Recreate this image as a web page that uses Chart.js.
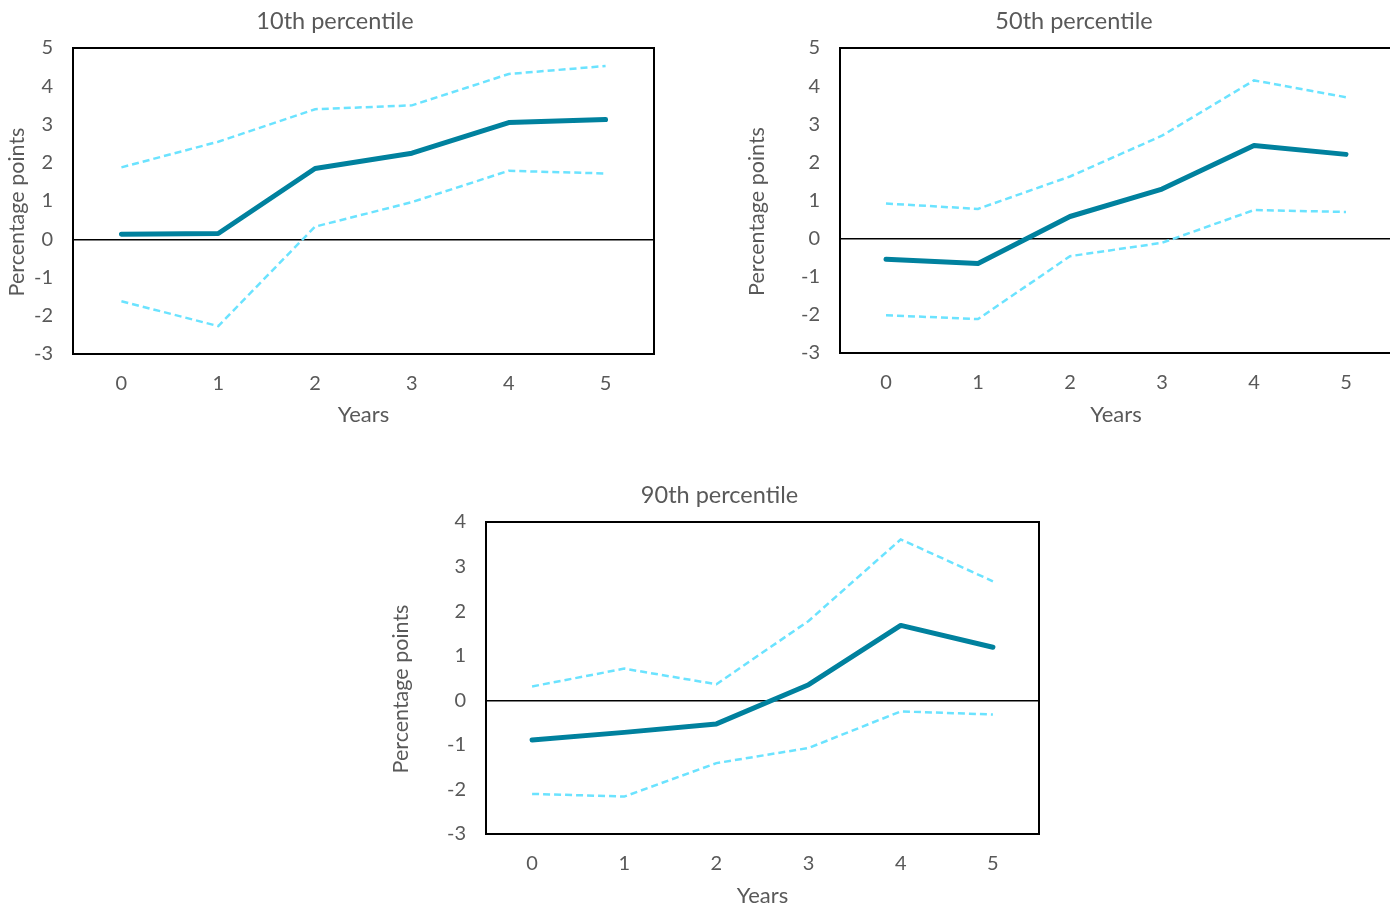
<!DOCTYPE html>
<html lang="en">
<head>
<meta charset="utf-8">
<title>Percentile responses</title>
<script src="https://cdn.jsdelivr.net/npm/chart.js@4.4.1/dist/chart.umd.min.js"></script>
<style>
	html, body { margin: 0; padding: 0; background: #fff; }
	body { width: 1390px; height: 907px; position: relative; overflow: hidden; }
	.pc-panel { position: absolute; }
	.pc-panel canvas { display: block; }
</style>
</head>
<body>

<div class="pc-panel" style="left:0px;top:0px;"><canvas id="pc-p10" width="670" height="430"></canvas></div>
<div class="pc-panel" style="left:740px;top:0px;"><canvas id="pc-p50" width="668" height="430"></canvas></div>
<div class="pc-panel" style="left:384px;top:474px;"><canvas id="pc-p90" width="671" height="437"></canvas></div>

<script>
// ── Data ──────────────────────────────────────────────────────────────────
var years = [ '0', '1', '2', '3', '4', '5' ];

var p10Mid   = [  0.13,  0.15, 1.85, 2.25, 3.05, 3.13 ];
var p10Upper = [  1.88,  2.55, 3.40, 3.50, 4.32, 4.53 ];
var p10Lower = [ -1.62, -2.27, 0.33, 0.97, 1.79, 1.72 ];

var p50Mid   = [ -0.54, -0.65,  0.58,  1.30, 2.44, 2.21 ];
var p50Upper = [  0.92,  0.78,  1.63,  2.70, 4.15, 3.71 ];
var p50Lower = [ -2.01, -2.11, -0.46, -0.11, 0.75, 0.70 ];

var p90Mid   = [ -0.89, -0.72, -0.53,  0.35,  1.68,  1.19 ];
var p90Upper = [  0.31,  0.71,  0.36,  1.78,  3.61,  2.67 ];
var p90Lower = [ -2.10, -2.16, -1.41, -1.07, -0.25, -0.32 ];

var yTicksTop    = [ -3, -2, -1, 0, 1, 2, 3, 4, 5 ];
var yTicksBottom = [ -3, -2, -1, 0, 1, 2, 3, 4 ];

( function () {
	'use strict';

	var FONT      = 'Lato, "Noto Sans", sans-serif';
	var TEXT_GREY = '#595959';
	var MID_BLUE  = '#00819e';
	var BAND_BLUE = '#6be3ff';

	// Black frame round the plot area.
	var framePlugin = {
		id : 'pcFrame',
		afterDatasetsDraw : function ( chart ) {
			var a   = chart.chartArea;
			var ctx = chart.ctx;
			ctx.save();
			ctx.strokeStyle = '#000';
			ctx.lineWidth   = 2;
			ctx.strokeRect( a.left, a.top, a.right - a.left, a.bottom - a.top );
			ctx.restore();
		},
	};

	function band( data ) {
		return {
			data        : data,
			borderColor : BAND_BLUE,
			borderWidth : 2.5,
			borderDash  : [ 7, 4 ],
			pointRadius : 0,
			tension     : 0,
		};
	}

	function makeChart( id, title, mid, upper, lower, ticks, yWidth, xHeight ) {
		var ctx = document.getElementById( id ).getContext( '2d' );

		return new Chart( ctx, {
			type : 'line',
			data : {
				labels   : years,
				datasets : [
					band( upper ),
					band( lower ),
					{
						data            : mid,
						borderColor     : MID_BLUE,
						borderWidth     : 5,
						borderCapStyle  : 'round',
						borderJoinStyle : 'round',
						pointRadius     : 0,
						tension         : 0,
					},
				],
			},
			options : {
				responsive       : false,
				animation        : false,
				devicePixelRatio : 1,
				layout           : { padding: 0 },
				plugins          : {
					legend  : { display: false },
					tooltip : { enabled: false },
					title   : {
						display : true,
						text    : title,
						color   : TEXT_GREY,
						font    : { family: FONT, size: 23.5, weight: 'normal' },
						padding : { top: 7, bottom: 12.8 },
					},
				},
				scales : {
					x : {
						offset : true,
						border : { display: false },
						grid   : { display: false, drawTicks: false },
						ticks  : {
							color   : TEXT_GREY,
							padding : 18,
							font    : { family: FONT, size: 20 },
						},
						title : {
							display : true,
							text    : 'Years',
							color   : TEXT_GREY,
							font    : { family: FONT, size: 22 },
							padding : { top: 4, bottom: 2 },
						},
						afterFit : function ( scale ) { scale.height = xHeight; },
					},
					y : {
						min    : ticks[ 0 ],
						max    : ticks[ ticks.length - 1 ],
						border : { display: false },
						grid   : {
							drawTicks : false,
							lineWidth : 1.5,
							color     : function ( c ) {
								return c.tick && c.tick.value === 0 ? '#000' : 'rgba(0,0,0,0)';
							},
						},
						ticks : {
							stepSize : 1,
							color    : TEXT_GREY,
							padding  : 20,
							font     : { family: FONT, size: 20 },
						},
						title : {
							display : true,
							// trailing spaces push the rotated label a little below centre
							text    : 'Percentage points    ',
							color   : TEXT_GREY,
							font    : { family: FONT, size: 21.5 },
							padding : { top: 4.1, bottom: 4 },
						},
						afterFit : function ( scale ) { scale.width = yWidth; },
					},
					// empty strip on the right so the title centres on the whole panel
					yRight : {
						type     : 'linear',
						position : 'right',
						border   : { display: false },
						grid     : { display: false, drawTicks: false },
						ticks    : { display: false },
						afterFit : function ( scale ) { scale.width = 16; },
					},
				},
			},
			plugins : [ framePlugin ],
		} );
	}

	// ── Boot ──────────────────────────────────────────────────────────────────
	makeChart( 'pc-p10', '10th percentile', p10Mid, p10Upper, p10Lower, yTicksTop, 73, 76 );
	makeChart( 'pc-p50', '50th percentile', p50Mid, p50Upper, p50Lower, yTicksTop, 100, 77 );
	makeChart( 'pc-p90', '90th percentile', p90Mid, p90Upper, p90Lower, yTicksBottom, 102, 77 );
}() );
</script>
</body>
</html>
